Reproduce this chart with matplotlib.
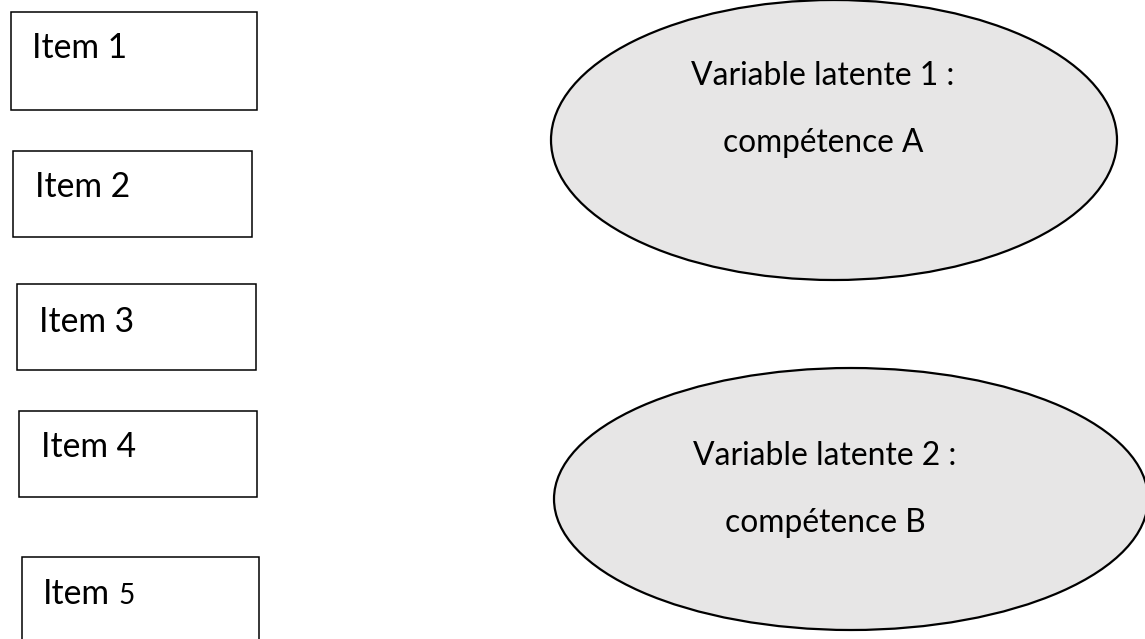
import matplotlib
matplotlib.use("Agg")
import matplotlib.pyplot as plt
from matplotlib.patches import Rectangle, Ellipse

plt.rcParams['font.family'] = ['Lato', 'DejaVu Sans']

# ---- content ----
item_labels = ["Item 1", "Item 2", "Item 3", "Item 4", "Item"]
item5_suffix = "5"
latent_line1 = ["Variable latente 1 :", "Variable latente 2 :"]
latent_line2 = ["compétence A", "compétence B"]

# ---- layout (pixel coordinates, y downward) ----
W, H = 1145, 639
box_x0 = [11, 13, 17, 19, 22]
box_y0 = [12, 151, 284, 411, 557]
box_x1 = [257, 252, 256, 257, 259]
box_y1 = [110, 237, 370, 497, 665]
text_x = [32, 35, 39, 41, 43]
text_base = [58, 197, 332, 457, 604]
suffix_x = 118

ell_cx = [834, 851]
ell_cy = [140, 499]
ell_w = [566, 594]
ell_h = [280, 262]
lat_cx = [823, 825]
lat_base1 = [85, 465]
lat_base2 = [152, 532]
lat_w1 = 264
lat_w2 = 201
item_w = 95

fig = plt.figure(figsize=(W / 100, H / 100), dpi=100)
ax = fig.add_axes([0, 0, 1, 1])
ax.set_xlim(0, W)
ax.set_ylim(H, 0)
ax.axis('off')
renderer = fig.canvas.get_renderer()


def fit(t, target):
    bb = t.get_window_extent(renderer)
    t.set_fontsize(t.get_fontsize() * target / bb.width)
    return t.get_fontsize()

# boxes
for x0, y0, x1, y1 in zip(box_x0, box_y0, box_x1, box_y1):
    ax.add_patch(Rectangle((x0, y0), x1 - x0, y1 - y0, facecolor='white',
                           edgecolor='black', lw=1.1))

# item text
probe = ax.text(text_x[0], text_base[0], item_labels[0], fontsize=24,
                ha='left', va='baseline', color='black')
fs_item = fit(probe, item_w)
for lab, x, yb in list(zip(item_labels, text_x, text_base))[1:]:
    ax.text(x, yb, lab, fontsize=fs_item, ha='left', va='baseline', color='black')
ax.text(suffix_x, text_base[4], item5_suffix, fontsize=fs_item * 0.83,
        ha='left', va='baseline', color='black')

# ellipses
for cx, cy, w, h in zip(ell_cx, ell_cy, ell_w, ell_h):
    ax.add_patch(Ellipse((cx, cy), w, h, facecolor='#E7E6E6',
                         edgecolor='black', lw=1.6))

fs1 = None
for i in range(2):
    t1 = ax.text(lat_cx[i], lat_base1[i], latent_line1[i], fontsize=20,
                 ha='center', va='baseline', color='black')
    t2 = ax.text(lat_cx[i], lat_base2[i], latent_line2[i], fontsize=20,
                 ha='center', va='baseline', color='black')
    fit(t1, lat_w1)
    fit(t2, lat_w2)

fig.savefig('out.png', dpi=100)
